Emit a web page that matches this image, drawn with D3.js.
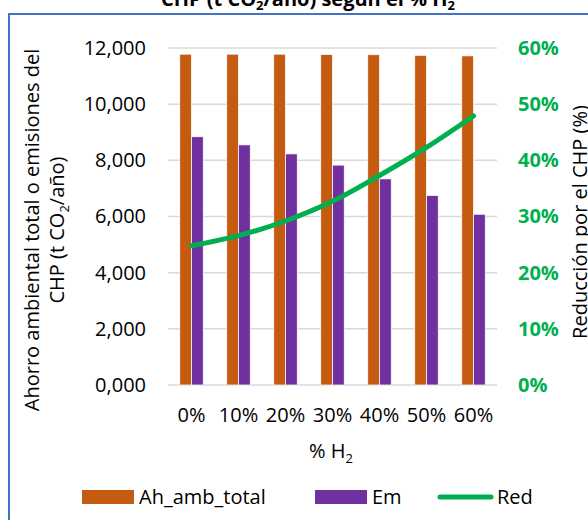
<!DOCTYPE html>
<html>
<head>
<meta charset="utf-8">
<script src="https://cdn.jsdelivr.net/npm/d3@7"></script>
<style>
  html, body { margin: 0; padding: 0; background: #fff; }
  svg { display: block; }
  text { font-family: "Open Sans", sans-serif; }
</style>
</head>
<body>
<svg id="chart" width="588" height="520"></svg>
<script>
// Hydrogen share in the fuel blend
const categories = ["0%", "10%", "20%", "30%", "40%", "50%", "60%"];
// Total environmental saving (t CO2/año)
const ahAmbTotal = [11780, 11780, 11780, 11770, 11760, 11740, 11720];
// CHP emissions (t CO2/año)
const em = [8840, 8550, 8230, 7830, 7340, 6750, 6080];
// Reduction achieved by the CHP (fraction)
const red = [0.248, 0.266, 0.292, 0.327, 0.373, 0.423, 0.479];

const leftTicks = [0, 2000, 4000, 6000, 8000, 10000, 12000];
const leftTickLabels = ["0,000", "2,000", "4,000", "6,000", "8,000", "10,000", "12,000"];
const rightTicks = [0, 0.1, 0.2, 0.3, 0.4, 0.5, 0.6];
const rightTickLabels = ["0%", "10%", "20%", "30%", "40%", "50%", "60%"];

const colors = { ah: "#C55A11", em: "#7030A0", red: "#00B050" };

const svg = d3.select("#chart");

// Chart frame
svg.append("rect")
  .attr("x", 9).attr("y", 14)
  .attr("width", 600).attr("height", 540)
  .attr("fill", "#fff")
  .attr("stroke", "#4472C4")
  .attr("stroke-width", 2);

// Title (second line)
const title = svg.append("text")
  .attr("x", 308).attr("y", 6)
  .attr("text-anchor", "middle")
  .attr("font-size", 20)
  .attr("font-weight", "bold")
  .attr("fill", "#000");
title.append("tspan").text("CHP (t CO");
title.append("tspan").attr("font-size", 13).attr("dy", 4).text("2");
title.append("tspan").attr("dy", -4).text("/año) según el % H");
title.append("tspan").attr("font-size", 13).attr("dy", 4).text("2");

const plot = { left: 168, right: 497, top: 48, bottom: 385 };

const x = d3.scaleBand().domain(categories).range([plot.left, plot.right]).padding(0);
const xs = d3.scaleBand().domain(["ah", "em"]).range([0, x.bandwidth()]).paddingInner(0).paddingOuter(1);
const yL = d3.scaleLinear().domain([0, 12000]).range([plot.bottom, plot.top]);
const yR = d3.scaleLinear().domain([0, 0.6]).range([plot.bottom, plot.top]);

// Gridlines
svg.append("g")
  .selectAll("line")
  .data(leftTicks)
  .join("line")
  .attr("x1", plot.left).attr("x2", plot.right)
  .attr("y1", d => yL(d)).attr("y2", d => yL(d))
  .attr("stroke", "#D9D9D9")
  .attr("stroke-width", 1.5);

// Bars
const groups = svg.append("g")
  .selectAll("g")
  .data(categories)
  .join("g")
  .attr("transform", d => `translate(${x(d)},0)`);

groups.append("rect")
  .attr("x", xs("ah"))
  .attr("width", xs.bandwidth())
  .attr("y", (d, i) => yL(ahAmbTotal[i]))
  .attr("height", (d, i) => yL(0) - yL(ahAmbTotal[i]))
  .attr("fill", colors.ah)
  .attr("stroke", "#fff")
  .attr("stroke-width", 0.75);

groups.append("rect")
  .attr("x", xs("em"))
  .attr("width", xs.bandwidth())
  .attr("y", (d, i) => yL(em[i]))
  .attr("height", (d, i) => yL(0) - yL(em[i]))
  .attr("fill", colors.em)
  .attr("stroke", "#fff")
  .attr("stroke-width", 0.75);

// Reduction line
const line = d3.line()
  .x((d, i) => x(categories[i]) + x.bandwidth() / 2)
  .y(d => yR(d))
  .curve(d3.curveMonotoneX);

svg.append("path")
  .datum(red)
  .attr("d", line)
  .attr("fill", "none")
  .attr("stroke", colors.red)
  .attr("stroke-width", 5)
  .attr("stroke-linecap", "round")
  .attr("stroke-linejoin", "round");

// Left axis
const leftAxis = d3.axisLeft(yL)
  .tickValues(leftTicks)
  .tickFormat((d, i) => leftTickLabels[i])
  .tickSize(0)
  .tickPadding(0);
const gl = svg.append("g").attr("transform", "translate(146,0)").call(leftAxis);
gl.select(".domain").remove();
gl.selectAll("text")
  .attr("font-family", "Open Sans, sans-serif")
  .attr("font-size", 20)
  .attr("fill", "#000");

// Right axis
const rightAxis = d3.axisRight(yR)
  .tickValues(rightTicks)
  .tickFormat((d, i) => rightTickLabels[i])
  .tickSize(0)
  .tickPadding(0);
const gr = svg.append("g").attr("transform", "translate(518,0)").call(rightAxis);
gr.select(".domain").remove();
gr.selectAll("text")
  .attr("font-family", "Open Sans, sans-serif")
  .attr("font-size", 20)
  .attr("font-weight", "bold")
  .attr("fill", colors.red);

// Bottom axis
const bottomAxis = d3.axisBottom(x).tickSize(0).tickPadding(0);
const gb = svg.append("g").attr("transform", "translate(0,408)").call(bottomAxis);
gb.select(".domain").remove();
gb.selectAll("text")
  .attr("font-family", "Open Sans, sans-serif")
  .attr("font-size", 20)
  .attr("fill", "#000");

// X axis title
const xt = svg.append("text")
  .attr("x", 331).attr("y", 458)
  .attr("text-anchor", "middle")
  .attr("font-size", 20)
  .attr("fill", "#000");
xt.append("tspan").text("% H");
xt.append("tspan").attr("font-size", 13).attr("dy", 5).text("2");

// Left axis title
const ltg = svg.append("g").attr("transform", "translate(39,230) rotate(-90)");
ltg.append("text")
  .attr("text-anchor", "middle")
  .attr("font-size", 20)
  .attr("fill", "#000")
  .text("Ahorro ambiental total o emisiones del");
const lt2 = ltg.append("text")
  .attr("y", 25)
  .attr("text-anchor", "middle")
  .attr("font-size", 20)
  .attr("fill", "#000");
lt2.append("tspan").text("CHP (t CO");
lt2.append("tspan").attr("font-size", 13).attr("dy", 5).text("2");
lt2.append("tspan").attr("dy", -5).text("/año)");

// Right axis title
svg.append("text")
  .attr("transform", "translate(587,222) rotate(-90)")
  .attr("text-anchor", "middle")
  .attr("font-size", 20)
  .attr("fill", "#000")
  .text("Reducción por el CHP (%)");

// Legend
const legend = svg.append("g");
legend.append("rect")
  .attr("x", 82).attr("y", 490).attr("width", 52).attr("height", 14)
  .attr("fill", colors.ah);
legend.append("text")
  .attr("x", 139).attr("y", 504)
  .attr("font-size", 20).attr("fill", "#000")
  .text("Ah_amb_total");
legend.append("rect")
  .attr("x", 315).attr("y", 490).attr("width", 52).attr("height", 14)
  .attr("fill", colors.em);
legend.append("text")
  .attr("x", 372).attr("y", 504)
  .attr("font-size", 20).attr("fill", "#000")
  .text("Em");
legend.append("line")
  .attr("x1", 440).attr("x2", 491).attr("y1", 497).attr("y2", 497)
  .attr("stroke", colors.red).attr("stroke-width", 5)
  .attr("stroke-linecap", "round");
legend.append("text")
  .attr("x", 497).attr("y", 504)
  .attr("font-size", 20).attr("fill", "#000")
  .text("Red");
</script>
</body>
</html>
